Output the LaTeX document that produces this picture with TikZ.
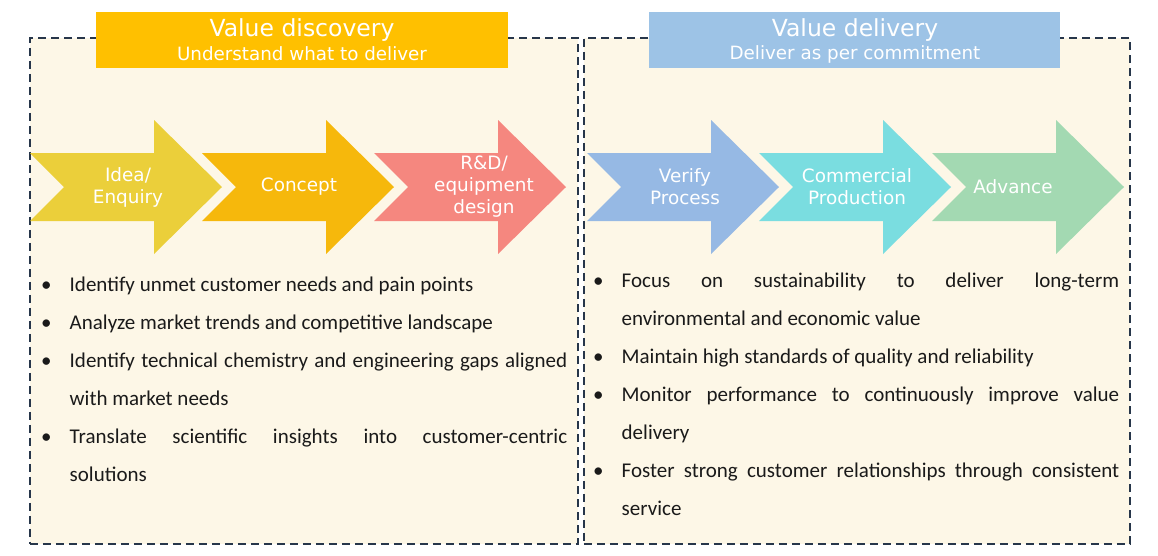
\documentclass[tikz,border=0pt]{standalone}
\usepackage{fontspec}
\setmainfont{Carlito}
\newfontfamily\hfont{DejaVu Sans}
\definecolor{panelfill}{HTML}{FDF7E7}
\definecolor{dashcol}{HTML}{27364A}
\definecolor{ttlA}{HTML}{FFC000}
\definecolor{ttlB}{HTML}{9DC3E6}
\definecolor{arA}{HTML}{EBCF3A}
\definecolor{arB}{HTML}{F6B80C}
\definecolor{arC}{HTML}{F5877F}
\definecolor{arD}{HTML}{96B9E4}
\definecolor{arE}{HTML}{7ADDE0}
\definecolor{arF}{HTML}{A3D9B2}
\definecolor{bodytext}{HTML}{1A1A1A}
\newcommand\flowarrow[2]{\fill[#2] (#1,153) -- ++(124,0) -- ++(0,-33) -- ++(68,67) -- ++(-68,67) -- ++(0,-33) -- ++(-124,0) -- ++(34,-34) -- cycle;}
\newcommand\bitem[1]{\noindent\hangindent=28.5pt\hangafter=1\makebox[28.5pt][l]{\strut\textbullet}#1\par}
\tikzset{
  panelbox/.style={draw=dashcol, line width=1.7pt, dash pattern=on 8pt off 5pt, fill=panelfill, anchor=north west, inner sep=0pt, minimum width=548pt, minimum height=506pt},
  titlebox/.style={anchor=north west, inner sep=0pt, minimum width=412pt, minimum height=56pt},
  ttltext/.style={text=white, font=\hfont\fontsize{23.5}{26}\selectfont, inner sep=0pt},
  subtext/.style={text=white, font=\hfont\fontsize{18.3}{20}\selectfont, inner sep=0pt},
  arrtext/.style={text=white, font=\hfont\fontsize{18.4}{22}\selectfont, align=center, inner sep=0pt},
  bullets/.style={anchor=north west, inner sep=0pt, text width=526pt, align=justify, text=bodytext,
    font=\fontsize{21}{38}\selectfont}
}
\begin{document}
\begin{tikzpicture}[x=1pt,y=-1pt]
\useasboundingbox (0,0) rectangle (1158,555);
\fill[white] (0,0) rectangle (1158,555);
% panels
\node[panelbox] (lpanel) at (29,37) {};
\node[panelbox, minimum width=546pt] (rpanel) at (583,37) {};
% titles
\node[titlebox, fill=ttlA] (ltitle) at (96,12) {};
\node[ttltext] (ltitleA) at (302,30) {Value discovery};
\node[subtext] (ltitleB) at (302,54) {Understand what to deliver};
\node[titlebox, fill=ttlB, minimum width=411pt] (rtitle) at (649,12) {};
\node[ttltext] (rtitleA) at (855,30) {Value delivery};
\node[subtext] (rtitleB) at (855,54) {Deliver as per commitment};
% arrows
\flowarrow{30}{arA}
\flowarrow{202}{arB}
\flowarrow{374}{arC}
\flowarrow{587}{arD}
\flowarrow{759}{arE}
\flowarrow{932}{arF}
\node[arrtext] (a1) at (128,187) {Idea/\\Enquiry};
\node[arrtext] (a2) at (299,187) {Concept};
\node[arrtext] (a3) at (484,187) {R\&D/\\equipment\\design};
\node[arrtext] (a4) at (685,187) {Verify\\Process};
\node[arrtext] (a5) at (857,187) {Commercial\\Production};
\node[arrtext] (a6) at (1013,187) {Advance};
% bullets
\node[bullets] (lbul) at (41,264.4) {\hyphenpenalty=10000\exhyphenpenalty=10000\tolerance=10000\parindent=0pt
\bitem{Identify unmet customer needs and pain points}
\bitem{Analyze market trends and competitive landscape}
\bitem{Identify technical chemistry and engineering gaps aligned with market needs}
\bitem{Translate scientific insights into customer-centric\linebreak solutions}};
\node[bullets] (rbul) at (593,260.4) {\hyphenpenalty=10000\exhyphenpenalty=10000\tolerance=10000\parindent=0pt
\bitem{Focus on sustainability to deliver long-term\linebreak environmental and economic value}
\bitem{Maintain high standards of quality and reliability}
\bitem{Monitor performance to continuously improve value delivery}
\bitem{Foster strong customer relationships through consistent service}};
\end{tikzpicture}
\end{document}
